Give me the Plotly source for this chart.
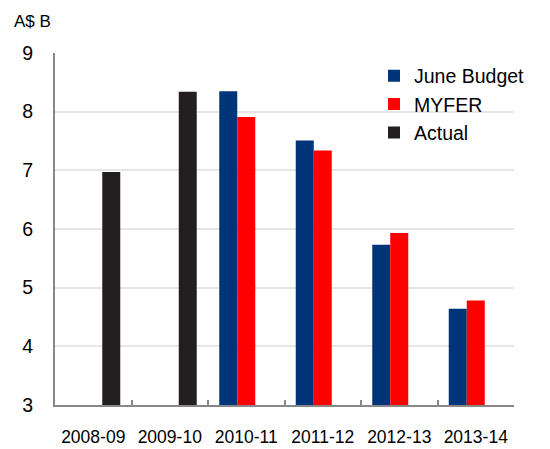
import plotly.graph_objects as go

categories = ["2008-09", "2009-10", "2010-11", "2011-12", "2012-13", "2013-14"]
june_budget = [None, None, 8.35, 7.51, 5.73, 4.64]
myfer = [None, None, 7.91, 7.34, 5.93, 4.78]
actual = [6.97, 8.34, None, None, None, None]

y_ticks = [3, 4, 5, 6, 7, 8, 9]
FONT = "Liberation Sans, Arial, sans-serif"

fig = go.Figure()
fig.add_trace(go.Bar(name="June Budget", x=categories, y=june_budget,
                     marker=dict(color="#003478", line=dict(width=0))))
fig.add_trace(go.Bar(name="MYFER", x=categories, y=myfer,
                     marker=dict(color="#ff0000", line=dict(width=0))))
fig.add_trace(go.Bar(name="Actual", x=categories, y=actual,
                     marker=dict(color="#231f20", line=dict(width=0))))

fig.update_layout(
    width=550, height=449,
    margin=dict(l=55, r=36, t=53, b=44),
    barmode="group", bargap=0.294, bargroupgap=0,
    plot_bgcolor="white", paper_bgcolor="white",
    font=dict(family=FONT, color="black"),
    showlegend=True,
    legend=dict(x=0.695, y=0.99, xanchor="left", yanchor="top",
                font=dict(size=19.5, family=FONT), bgcolor="rgba(0,0,0,0)",
                itemwidth=30, tracegroupgap=0, traceorder="normal"),
    xaxis=dict(type="category", showline=True, linecolor="#888888", linewidth=2,
               ticks="inside", tickson="boundaries", ticklen=5, tickcolor="#888888",
               tickwidth=2, tickfont=dict(size=17.5), ticklabelstandoff=15,
               showgrid=False, zeroline=False, automargin=False),
    yaxis=dict(range=[3, 9], tickvals=y_ticks, showline=True, linecolor="#888888",
               linewidth=2, ticks="", showgrid=True, gridcolor="#e6e6e6", gridwidth=2,
               tickfont=dict(size=19.5), ticklabelstandoff=16, zeroline=False,
               automargin=False),
    annotations=[dict(text="A$ B", xref="paper", yref="paper", x=0, y=1,
                      xanchor="left", yanchor="middle", xshift=-43, yshift=32,
                      showarrow=False, font=dict(size=17, family=FONT))],
)

fig.write_html("out.html")
